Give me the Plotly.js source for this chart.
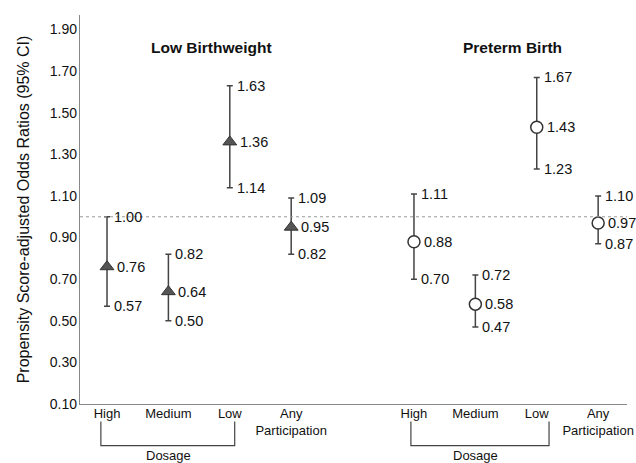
<!DOCTYPE html>
<html>
<head>
<meta charset="utf-8">
<script src="https://cdn.plot.ly/plotly-3.0.1.min.js"></script>
<style>html,body{margin:0;padding:0;background:#fff;}#chart{width:636px;height:463px;}</style>
</head>
<body>
<div id="chart"></div>
<script>
// Data
const categories = ["High", "Medium", "Low", "Any<br>Participation"];
const lbwX = [1, 2, 3, 4];
const pbX = [6, 7, 8, 9];
const lbwOR = [0.76, 0.64, 1.36, 0.95];
const lbwLow = [0.57, 0.50, 1.14, 0.82];
const lbwHigh = [1.00, 0.82, 1.63, 1.09];
const pbOR = [0.88, 0.58, 1.43, 0.97];
const pbLow = [0.70, 0.47, 1.23, 0.87];
const pbHigh = [1.11, 0.72, 1.67, 1.10];
const yTicks = [0.10, 0.30, 0.50, 0.70, 0.90, 1.10, 1.30, 1.50, 1.70, 1.90];
const groupTitles = ["Low Birthweight", "Preterm Birth"];
const refLine = 1.00;

const fmt = v => v.toFixed(2);
const FONT = 'Arial, Liberation Sans, sans-serif';

function series(xs, or, lo, hi, marker) {
  return {
    type: 'scatter', mode: 'markers', x: xs, y: or,
    marker: marker,
    error_y: {
      type: 'data', symmetric: false,
      array: hi.map((h, i) => h - or[i]),
      arrayminus: or.map((m, i) => m - lo[i]),
      color: '#444', thickness: 1.5, width: 3
    },
    hoverinfo: 'skip', showlegend: false, cliponaxis: false
  };
}

const traces = [
  series(lbwX, lbwOR, lbwLow, lbwHigh, {symbol: 'triangle-up', size: 12, color: '#555', line: {color: '#333', width: 1}}),
  series(pbX, pbOR, pbLow, pbHigh, {symbol: 'circle', size: 12, color: '#fff', line: {color: '#333', width: 1.5}})
];

const annotations = [];
function addLabels(xs, or, lo, hi) {
  xs.forEach((x, i) => {
    [[or[i], 8], [lo[i], 5], [hi[i], 5]].forEach(([v, s]) => {
      annotations.push({x: x, y: v, xref: 'x', yref: 'y', text: fmt(v), showarrow: false,
        xanchor: 'left', yanchor: 'middle', xshift: s,
        font: {family: FONT, size: 14.5, color: '#111'}});
    });
  });
}
addLabels(lbwX, lbwOR, lbwLow, lbwHigh);
addLabels(pbX, pbOR, pbLow, pbHigh);

// group titles
[[2.71, groupTitles[0]], [7.6, groupTitles[1]]].forEach(([x, t]) => {
  annotations.push({x: x, y: 1.815, xref: 'x', yref: 'y', text: '<b>' + t + '</b>', showarrow: false,
    xanchor: 'center', yanchor: 'middle',
    font: {family: FONT, size: 15.5, color: '#111'}});
});

// Dosage labels
[[lbwX[0], lbwX[2]], [pbX[0], pbX[2]]].forEach(([a, b]) => {
  annotations.push({x: (a + b) / 2, y: -0.133, xref: 'x', yref: 'paper', text: 'Dosage', showarrow: false,
    xanchor: 'center', yanchor: 'middle',
    font: {family: FONT, size: 13, color: '#111'}});
});

const shapes = [
  {type: 'line', xref: 'paper', yref: 'y', x0: 0, x1: 1, y0: refLine, y1: refLine,
   line: {color: '#999', width: 1, dash: 'dot'}}
];
[[lbwX[0] - 0.1, lbwX[2] + 0.08], [pbX[0] - 0.05, pbX[2] + 0.2]].forEach(([a, b]) => {
  shapes.push({type: 'path', xref: 'x', yref: 'paper',
    path: `M ${a} -0.045 L ${a} -0.107 L ${b} -0.107 L ${b} -0.045`,
    line: {color: '#444', width: 1.2}});
});

const layout = {
  width: 636, height: 463,
  margin: {l: 80, r: 9, t: 15, b: 59},
  paper_bgcolor: '#fff', plot_bgcolor: '#fff',
  font: {family: FONT, color: '#111'},
  xaxis: {
    range: [0.56, 9.47],
    tickmode: 'array', tickvals: lbwX.concat(pbX), ticktext: categories.concat(categories),
    showgrid: false, zeroline: false, showline: true, linecolor: '#888', linewidth: 1.2,
    ticks: '', ticklabelstandoff: -3, tickfont: {size: 13, color: '#111'}, fixedrange: true
  },
  yaxis: {
    range: [0.10, 1.97],
    tickmode: 'array', tickvals: yTicks, ticktext: yTicks.map(fmt),
    showgrid: false, zeroline: false, showline: true, linecolor: '#888', linewidth: 1.2,
    ticks: '', ticklabelstandoff: -1, tickfont: {size: 14, color: '#111'},
    title: {text: 'Propensity Score-adjusted Odds Ratios (95% CI)', font: {size: 16, color: '#111'}, standoff: 16}
  },
  annotations: annotations,
  shapes: shapes
};

Plotly.newPlot('chart', traces, layout, {displayModeBar: false, staticPlot: true});
</script>
</body>
</html>
